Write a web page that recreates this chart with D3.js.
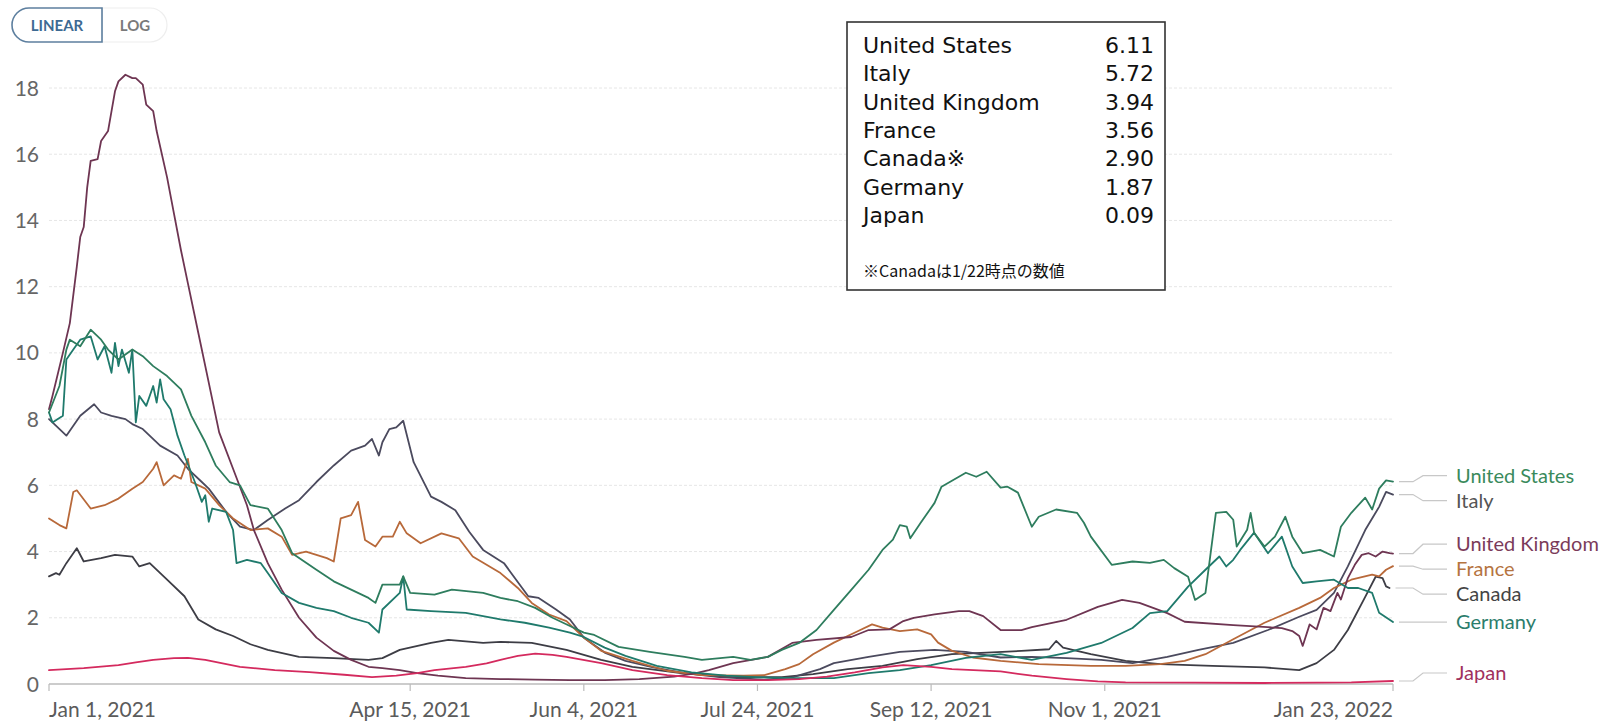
<!DOCTYPE html>
<html>
<head>
<meta charset="utf-8">
<script src="https://cdn.jsdelivr.net/npm/d3@7"></script>
<style>
body{margin:0;background:#fff}
svg{display:block}
</style>
</head>
<body>
<svg id="chart" width="1605" height="721"></svg>
<script>
// daily deaths per million, 7-day avg -- [days since Jan 1 2021, value]
var usData = [[0,8.2],[3,9.0],[5,10.1],[6,10.4],[9,10.2],[12,10.7],[15,10.4],[17,10.1],[20,9.8],[24,10.1],[27,9.9],[30,9.6],[34,9.3],[38,8.9],[41,8.1],[45,7.3],[48,6.6],[52,6.1],[55,6.0],[58,5.4],[63,5.3],[67,4.65],[70,3.95],[77,3.45],[82,3.1],[87,2.85],[92,2.6],[94,2.45],[96,3.0],[101,3.0],[102,3.25],[104,2.75],[111,2.7],[116,2.85],[125,2.75],[130,2.6],[135,2.5],[140,2.3],[145,2.0],[150,1.75],[154,1.55],[157,1.48],[164,1.12],[173,0.97],[183,0.82],[188,0.73],[197,0.82],[202,0.73],[207,0.82],[211,1.03],[216,1.24],[221,1.63],[226,2.24],[231,2.84],[236,3.45],[240,4.05],[243,4.36],[245,4.8],[247,4.75],[248,4.4],[251,4.87],[255,5.47],[257,5.96],[262,6.26],[264,6.38],[267,6.26],[270,6.41],[274,5.93],[276,5.96],[279,5.78],[283,4.75],[285,5.05],[290,5.27],[296,5.17],[298,4.87],[300,4.45],[306,3.6],[312,3.7],[317,3.66],[321,3.75],[324,3.5],[328,3.24],[330,2.54],[333,2.75],[336,5.17],[339,5.2],[341,4.96],[342,4.15],[345,4.66],[346,5.17],[347,4.57],[350,4.15],[353,4.45],[356,5.05],[358,4.45],[361,3.95],[366,4.05],[370,3.85],[372,4.75],[375,5.17],[379,5.63],[381,5.27],[383,5.9],[385,6.15],[387,6.11]];
var italyData = [[0,8.0],[1,7.9],[5,7.5],[9,8.1],[13,8.45],[15,8.2],[18,8.1],[22,8.0],[24,7.85],[27,7.7],[32,7.2],[37,6.9],[40,6.5],[44,6.1],[46,5.9],[51,5.2],[55,4.75],[59,4.65],[63,4.95],[68,5.3],[72,5.55],[77,6.1],[82,6.6],[87,7.05],[91,7.2],[93,7.4],[95,6.9],[96,7.3],[98,7.7],[100,7.75],[102,7.95],[105,6.7],[110,5.66],[113,5.5],[117,5.25],[121,4.6],[125,4.05],[131,3.65],[138,2.65],[141,2.6],[146,2.25],[150,1.95],[154,1.4],[160,0.95],[166,0.7],[174,0.5],[183,0.33],[193,0.21],[206,0.13],[214,0.2],[222,0.45],[226,0.63],[236,0.82],[245,0.97],[255,1.03],[264,0.97],[274,0.8],[283,0.82],[293,0.78],[303,0.73],[312,0.63],[322,0.82],[331,1.03],[341,1.24],[351,1.63],[360,2.03],[365,2.24],[370,2.75],[374,3.55],[379,4.65],[383,5.35],[385,5.8],[387,5.72]];
var ukData = [[0,8.3],[1,8.7],[4,10.0],[6,10.9],[8,12.6],[9,13.5],[10,13.8],[11,15.0],[12,15.8],[14,15.85],[15,16.4],[17,16.7],[19,17.9],[20,18.2],[22,18.4],[24,18.3],[25,18.3],[27,18.1],[28,17.5],[30,17.3],[31,16.7],[34,15.3],[36,14.2],[38,13.1],[40,12.1],[43,10.6],[46,9.1],[49,7.6],[53,6.5],[57,5.4],[59,4.65],[63,3.65],[67,2.85],[72,2.0],[77,1.4],[82,1.0],[87,0.73],[92,0.52],[96,0.48],[101,0.42],[106,0.33],[112,0.25],[120,0.18],[130,0.15],[140,0.13],[150,0.12],[160,0.12],[170,0.15],[180,0.22],[186,0.32],[190,0.42],[197,0.63],[207,0.82],[214,1.24],[221,1.33],[231,1.42],[236,1.63],[242,1.65],[246,1.9],[249,2.0],[255,2.1],[262,2.2],[265,2.2],[269,2.05],[274,1.63],[280,1.63],[283,1.72],[293,1.94],[302,2.33],[309,2.54],[314,2.45],[322,2.14],[327,1.88],[341,1.78],[355,1.69],[358,1.6],[360,1.45],[361,1.15],[363,1.8],[365,1.65],[367,2.3],[369,2.2],[371,2.75],[372,2.55],[374,3.2],[376,3.6],[378,3.9],[380,3.95],[382,3.85],[384,4.0],[386,3.95],[387,3.94]];
var franceData = [[0,5.0],[3,4.8],[5,4.7],[7,5.8],[8,5.85],[12,5.3],[16,5.4],[20,5.6],[24,5.9],[27,6.1],[30,6.5],[31,6.7],[33,6.0],[36,6.3],[38,6.2],[40,6.8],[41,6.1],[45,5.9],[49,5.4],[53,5.0],[58,4.65],[63,4.7],[67,4.45],[70,3.9],[74,4.0],[77,3.9],[80,3.8],[82,3.7],[84,5.0],[87,5.1],[89,5.5],[91,4.35],[94,4.15],[96,4.45],[99,4.45],[101,4.9],[103,4.55],[107,4.25],[113,4.55],[118,4.4],[122,3.85],[126,3.6],[130,3.35],[135,2.9],[139,2.45],[144,2.1],[149,1.9],[154,1.4],[159,1.0],[168,0.7],[178,0.4],[188,0.27],[200,0.25],[206,0.27],[212,0.45],[216,0.6],[220,0.9],[226,1.25],[233,1.6],[237,1.8],[240,1.7],[245,1.6],[250,1.65],[254,1.5],[256,1.25],[260,1.0],[266,0.8],[274,0.7],[285,0.6],[300,0.55],[310,0.55],[320,0.6],[327,0.7],[333,0.9],[341,1.35],[350,1.85],[360,2.3],[366,2.6],[370,2.9],[375,3.15],[381,3.3],[383,3.25],[385,3.45],[387,3.56]];
var canadaData = [[0,3.25],[2,3.35],[3,3.3],[5,3.65],[8,4.1],[10,3.7],[15,3.8],[19,3.9],[24,3.85],[26,3.55],[29,3.65],[34,3.15],[39,2.65],[43,1.95],[48,1.65],[53,1.45],[58,1.2],[63,1.03],[72,0.82],[82,0.78],[92,0.73],[96,0.78],[101,1.03],[110,1.24],[115,1.33],[125,1.24],[130,1.27],[139,1.24],[149,1.03],[159,0.73],[168,0.52],[182,0.33],[197,0.21],[211,0.21],[220,0.3],[230,0.45],[240,0.55],[250,0.75],[260,0.9],[270,0.95],[280,1.0],[288,1.05],[290,1.3],[292,1.1],[300,0.9],[310,0.7],[320,0.6],[335,0.55],[350,0.5],[360,0.42],[365,0.63],[370,1.03],[374,1.63],[379,2.63],[382,3.24],[384,3.2],[385,2.95],[386,2.9]];
var germanyData = [[0,8.2],[1,7.9],[4,8.1],[5,9.8],[7,10.1],[9,10.4],[12,10.5],[14,9.8],[16,10.2],[18,9.4],[19,10.3],[20,9.6],[21,10.1],[23,9.4],[24,10.1],[25,7.9],[26,8.7],[28,8.4],[30,9.0],[31,8.5],[32,9.2],[33,8.6],[35,8.3],[37,7.5],[39,6.9],[42,6.1],[44,5.5],[45,5.7],[46,4.9],[47,5.3],[51,5.2],[53,4.65],[54,3.65],[57,3.75],[61,3.65],[63,3.35],[67,2.75],[72,2.45],[77,2.3],[82,2.2],[87,2.0],[92,1.85],[95,1.55],[96,2.25],[101,2.75],[102,3.25],[103,2.25],[110,2.2],[120,2.15],[130,1.95],[137,1.85],[144,1.7],[150,1.55],[154,1.42],[160,1.1],[166,0.85],[175,0.55],[185,0.35],[195,0.25],[205,0.2],[215,0.18],[226,0.18],[236,0.33],[245,0.42],[254,0.57],[264,0.79],[274,0.9],[283,0.73],[293,0.94],[303,1.24],[312,1.69],[317,2.14],[322,2.2],[328,2.94],[333,3.45],[337,3.85],[339,3.55],[341,3.75],[343,4.05],[347,4.57],[351,3.95],[355,4.45],[358,3.55],[361,3.05],[365,3.1],[370,3.15],[374,2.9],[377,2.9],[381,2.75],[383,2.15],[387,1.87]];
var japanData = [[0,0.42],[10,0.48],[20,0.57],[25,0.65],[30,0.73],[36,0.78],[40,0.79],[45,0.73],[55,0.52],[65,0.42],[75,0.36],[85,0.28],[93,0.21],[100,0.25],[106,0.33],[111,0.42],[120,0.52],[126,0.62],[130,0.73],[135,0.85],[140,0.92],[145,0.88],[149,0.82],[159,0.63],[168,0.42],[178,0.27],[188,0.18],[197,0.12],[207,0.12],[216,0.15],[224,0.22],[232,0.35],[240,0.5],[246,0.57],[254,0.52],[260,0.45],[274,0.38],[283,0.25],[293,0.15],[302,0.08],[310,0.05],[330,0.04],[350,0.03],[365,0.04],[375,0.05],[387,0.09]];

var countries = ["United States","Italy","United Kingdom","France","Canada","Germany","Japan"];
var seriesData = [usData, italyData, ukData, franceData, canadaData, germanyData, japanData];
var lineColors = ["#2e7d5e","#4b4a5e","#6e3552","#b8693a","#3d3d45","#1f7a6c","#d42a5e"];
var labelColors = ["#3a8a5c","#555555","#7b3b5a","#b5743f","#444444","#2c7d6c","#a0305e"];
var drawOrder = [4,1,3,2,5,0,6];

var tableNames = ["United States","Italy","United Kingdom","France","Canada\u203B","Germany","Japan"];
var tableValues = [6.11,5.72,3.94,3.56,2.90,1.87,0.09];
var tableNote = "\u203BCanada\u306F1/22\u6642\u70B9\u306E\u6570\u5024";

var yTicks = [0,2,4,6,8,10,12,14,16,18];
var xTickDays = [0,104,154,204,254,304,387];
var xTickLabels = ["Jan 1, 2021","Apr 15, 2021","Jun 4, 2021","Jul 24, 2021","Sep 12, 2021","Nov 1, 2021","Jan 23, 2022"];

var start = Date.UTC(2021,0,1);
function toDate(d){ return new Date(start + d*864e5); }

var svg = d3.select("#chart");
svg.append("rect").attr("width",1605).attr("height",721).attr("fill","#fff");

var x = d3.scaleUtc().domain([toDate(0), toDate(387)]).range([49, 1393]);
var y = d3.scaleLinear().domain([0,18]).range([684, 88]);

// toggle
var tg = svg.append("g");
tg.append("path").attr("d","M102,8 H150 A17,17 0 0 1 167,25 A17,17 0 0 1 150,42 H102 Z")
  .attr("fill","#fff").attr("stroke","#eeeeee").attr("stroke-width",1.2);
tg.append("path").attr("d","M102,8 H29 A17,17 0 0 0 12,25 A17,17 0 0 0 29,42 H102 Z")
  .attr("fill","#fff").attr("stroke","#5d7f9f").attr("stroke-width",1.6);
tg.append("text").attr("x",57).attr("y",31).attr("text-anchor","middle")
  .style("font-family","Lato").style("font-weight","bold").style("font-size","15px")
  .attr("fill","#3d6a93").text("LINEAR");
tg.append("text").attr("x",135).attr("y",31).attr("text-anchor","middle")
  .style("font-family","Lato").style("font-weight","bold").style("font-size","15px")
  .attr("fill","#7a7a7a").text("LOG");

// grid + y labels
var grid = svg.append("g");
yTicks.forEach(function(t){
  if(t>0){
    grid.append("line").attr("x1",49).attr("x2",1393).attr("y1",y(t)).attr("y2",y(t))
      .attr("stroke","#e6e6e6").attr("stroke-dasharray","3,2");
  }
  grid.append("text").attr("x",39).attr("y",y(t)).attr("dy","0.36em").attr("text-anchor","end")
    .style("font-family","Lato").style("font-size","21px").attr("fill","#666").text(t);
});

// x axis
var xa = svg.append("g");
xa.append("line").attr("x1",49).attr("x2",1393).attr("y1",684).attr("y2",684)
  .attr("stroke","#bbb").attr("stroke-width",1.5);
xTickDays.forEach(function(d,i){
  var px = x(toDate(d));
  xa.append("line").attr("x1",px).attr("x2",px).attr("y1",684).attr("y2",691)
    .attr("stroke","#bbb").attr("stroke-width",1.2);
  var anchor = i==0 ? "start" : (i==xTickDays.length-1 ? "end" : "middle");
  xa.append("text").attr("x",px).attr("y",717).attr("text-anchor",anchor)
    .style("font-family","Lato").style("font-size","21px").attr("fill","#5b5b5b").text(xTickLabels[i]);
});

// lines
var line = d3.line().x(function(d){ return x(toDate(d[0])); }).y(function(d){ return y(d[1]); });
var lg = svg.append("g");
drawOrder.forEach(function(i){
  lg.append("path").datum(seriesData[i]).attr("d",line).attr("fill","none")
    .attr("stroke",lineColors[i]).attr("stroke-width",1.8)
    .attr("stroke-linejoin","round").attr("stroke-linecap","round");
});

// end labels, pushed apart
var labels = countries.map(function(c,i){
  var last = seriesData[i][seriesData[i].length-1];
  return {i:i, name:c, endX:x(toDate(last[0])), dataY:y(last[1]), ly:y(last[1])};
});
labels.sort(function(a,b){ return a.dataY-b.dataY; });
for(var it=0; it<200; it++){
  for(var k=0;k<labels.length-1;k++){
    var gap = labels[k+1].ly - labels[k].ly;
    if(gap<25){ var m=(25-gap)/2; labels[k].ly-=m; labels[k+1].ly+=m; }
  }
  labels.forEach(function(l){ if(l.ly>673) l.ly=673; });
}
var lab = svg.append("g");
labels.forEach(function(l){
  lab.append("path").attr("d","M"+(l.endX+6)+","+l.dataY+" H1413 L1423,"+l.ly+" H1447")
    .attr("fill","none").attr("stroke","#c8c8c8").attr("stroke-width",1.2);
  lab.append("text").attr("x",1456).attr("y",l.ly).attr("dy","0.36em")
    .style("font-family","Lato").style("font-size","20px").attr("fill",labelColors[l.i]).text(l.name);
});

// value box
var box = svg.append("g");
box.append("rect").attr("x",847).attr("y",22).attr("width",318).attr("height",268)
  .attr("fill","#fff").attr("stroke","#333").attr("stroke-width",1.6);
tableNames.forEach(function(n,i){
  var by = 53 + i*28.3;
  box.append("text").attr("x",863).attr("y",by)
    .style("font-family","DejaVu Sans").style("font-size","22px").attr("fill","#111").text(n);
  box.append("text").attr("x",1154).attr("y",by).attr("text-anchor","end")
    .style("font-family","DejaVu Sans").style("font-size","22px").attr("fill","#111").text(tableValues[i].toFixed(2));
});
box.append("text").attr("x",863).attr("y",277)
  .style("font-family","'Noto Sans CJK JP'").style("font-size","16px").attr("fill","#111").text(tableNote);
</script>
</body>
</html>
